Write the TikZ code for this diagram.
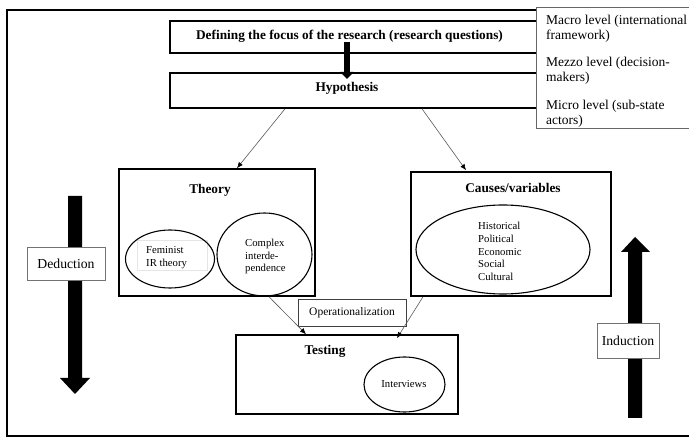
\documentclass[tikz,border=0pt]{standalone}
\usepackage{fontspec}
\setmainfont{Liberation Serif}
\usetikzlibrary{shapes.geometric,arrows.meta,calc}
\begin{document}
\begin{tikzpicture}[x=1pt,y=-1pt,
  box/.style={draw, line width=1.6pt, rectangle, inner sep=0pt},
  thinbox/.style={draw=black!55, line width=0.8pt, rectangle, fill=white, inner sep=0pt},
  ell/.style={draw, ellipse, line width=1.1pt, inner sep=0pt},
  conn/.style={draw=black!65, line width=0.6pt, -{Latex[length=6pt,width=5pt,color=black]}},
  head/.style={font=\fontsize{13.3}{15}\selectfont\bfseries, inner sep=0pt},
  small/.style={font=\fontsize{10.7}{12.8}\selectfont, align=left, inner sep=0pt},
  lev/.style={font=\fontsize{13.5}{15}\selectfont, align=left, anchor=west, inner sep=0pt},
  side/.style={font=\fontsize{13.7}{15}\selectfont, inner sep=0pt}
]
\useasboundingbox (0,0) rectangle (689,438);
\clip (0,0) rectangle (689,438);
\fill[white] (0,0) rectangle (689,438);
% outer frame
\draw[line width=1.4pt] (7,10) rectangle (720,436);

% top boxes
\node[box, minimum width=390pt, minimum height=32pt] (defbox) at (365,37) {};
\node[head] (deftext) at (349.5,36) {Defining the focus of the research (research questions)};
\node[box, minimum width=390pt, minimum height=35pt] (hypo) at (365,90.5) {};
\node[head] (hypotext) at (347,88) {Hypothesis};
\draw[line width=6pt, -{Triangle[length=7pt,width=13pt]}] ([xshift=-2.5pt]deftext.south) -- ([xshift=-2.5pt]deftext.south |- 0,79);

% levels box
\node[draw=black!60, line width=0.9pt, fill=white, rectangle, inner sep=0pt,
      minimum width=170pt, minimum height=121pt] (levels) at (621,67.5) {};
\node[lev] (macro) at (546,28.5) {Macro level (international\\framework)};
\node[lev] (mezzo) at (546,70.5) {Mezzo level (decision-\\makers)};
\node[lev] (micro) at (546,113.5) {Micro level (sub-state\\actors)};

% theory
\node[box, minimum width=196pt, minimum height=127pt] (theory) at (217,232.5) {};
\node[head] (theorytext) at (210,190) {Theory};
\draw[draw=black!10, line width=0.6pt] (137,240) rectangle (207,270);
\node[ell, minimum width=89pt, minimum height=58pt] (fem) at (170,259) {};
\node[small, anchor=west] (femtext) at (146,257.5) {Feminist\\IR theory};
\node[ell, minimum width=95pt, minimum height=83pt] (cplx) at (264.5,254.5) {};
\node[small, anchor=west] (cplxtext) at (245,256.5) {Complex\\interde-\\pendence};

% causes
\node[box, minimum width=200pt, minimum height=124pt] (causes) at (511,234) {};
\node[head] (causestext) at (513,188) {Causes/variables};
\node[ell, minimum width=174pt, minimum height=89pt] (causell) at (503,249.5) {};
\node[small, anchor=west] (causlist) at (478,251.5) {Historical\\Political\\Economic\\Social\\Cultural};

% testing
\node[box, minimum width=222pt, minimum height=79pt] (testing) at (347,374.5) {};
\node[head] (testtext) at (325,351) {Testing};
\node[ell, minimum width=81pt, minimum height=55pt] (interv) at (404.5,384.5) {};
\node[small] (intertext) at (404,384) {Interviews};

% operationalization
\node[draw=black!75, line width=0.8pt, fill=white, rectangle, inner sep=0pt,
      minimum width=108pt, minimum height=27pt,
      font=\fontsize{11.5}{13}\selectfont] (oper) at (352,312.5) {Operationalization};

% connectors
\draw[conn] ([xshift=-80pt]hypo.south) -- ([xshift=20pt]theory.north);
\draw[conn] ([xshift=57pt]hypo.south) -- ([xshift=-45pt,yshift=1pt]causes.north);
\draw[conn] ([xshift=52pt]theory.south) -- ([xshift=-41pt]testing.north);
\draw[conn] ([xshift=-88pt]causes.south) -- ([xshift=50pt,yshift=-4pt]testing.north);

% deduction arrow
\fill (68,196) -- (82,196) -- (82,378) -- (90,378) -- (75,394) -- (60,378) -- (68,378) -- cycle;
\node[thinbox, minimum width=78pt, minimum height=33pt, side] (ded) at (66,263.5) {Deduction};

% induction arrow
\fill (628,418) -- (642,418) -- (642,252) -- (650,252) -- (635,237) -- (621,252) -- (628,252) -- cycle;
\node[thinbox, minimum width=62pt, minimum height=35pt, side] (ind) at (628,340.5) {Induction};
\end{tikzpicture}
\end{document}
